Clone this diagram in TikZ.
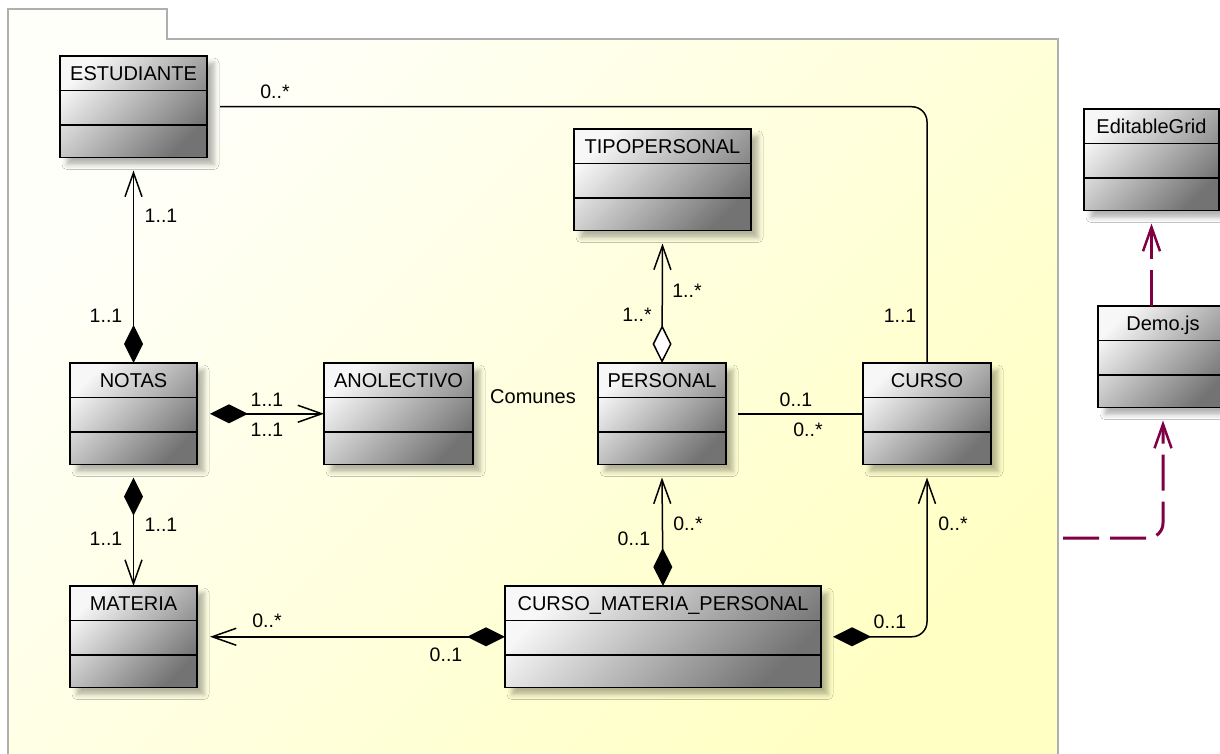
\documentclass[tikz,border=0pt]{standalone}
\usepackage{fontspec}
\setmainfont{Liberation Sans}
\usetikzlibrary{arrows.meta,shadows.blur}
\definecolor{pkgA}{RGB}{255,255,250}
\definecolor{pkgB}{RGB}{255,255,196}
\definecolor{pkgline}{RGB}{175,175,175}
\definecolor{depcol}{RGB}{128,0,70}
\tikzset{
  umlbox/.style={draw=black, line width=1.5pt, rectangle, inner sep=0pt, outer sep=0pt,
    minimum height=101.5pt, top color=black!3, bottom color=black!55, shading angle=45,
    blur shadow={shadow xshift=7pt, shadow yshift=-7pt, shadow blur radius=5pt, shadow opacity=30}},
  sepline/.style={line width=1.5pt},
  cname/.style={font=\fontsize{20}{24}\selectfont, anchor=base, inner sep=0pt},
  mult/.style={font=\fontsize{19.5}{23}\selectfont, inner sep=0pt},
  assoc/.style={line width=1.5pt},
  compnav/.style={{Diamond[length=38pt,width=19pt]}-{Straight Barb[length=24pt,width=17pt]}},
  aggnav/.style={{Diamond[open,length=38pt,width=19pt,fill=white]}-{Straight Barb[length=24pt,width=17pt]}},
  deparrow/.style={draw=depcol, line width=3pt, dash pattern=on 36pt off 11pt,
    -{Straight Barb[length=24pt,width=17pt,line width=2.5pt]}},
}
\newcommand\umlcls[5]{%
  \node[umlbox, minimum width=#4pt, anchor=north west] (#1) at (#2,#3) {};
  \draw[sepline] ([yshift=-34.5pt]#1.north west) -- ([yshift=-34.5pt]#1.north east);
  \draw[sepline] ([yshift=-69pt]#1.north west) -- ([yshift=-69pt]#1.north east);
  \node[cname] (#1-t) at ([yshift=-24.5pt]#1.north) {#5};
}
\begin{document}
\begin{tikzpicture}[x=1pt,y=-1pt]
\useasboundingbox (0,0) rectangle (1220,754);
\fill[white] (0,0) rectangle (1220,754);
% package
\draw[pkgline, line width=1.5pt, top color=pkgA, bottom color=pkgB, shading angle=45]
  (8,770) -- (8,9) -- (167,9) -- (167,39) -- (1058,39) -- (1058,770);

% classes
\umlcls{est}{60}{56}{147}{ESTUDIANTE}
\umlcls{tipo}{574}{129}{177}{TIPOPERSONAL}
\umlcls{notas}{70}{363}{127}{NOTAS}
\umlcls{anol}{324}{363}{149}{ANOLECTIVO}
\umlcls{pers}{598}{363}{128}{PERSONAL}
\umlcls{curso}{863}{363}{128}{CURSO}
\umlcls{mat}{70}{586}{127}{MATERIA}
\umlcls{cmp}{505}{586}{316}{CURSO\_MATERIA\_PERSONAL}
\umlcls{eg}{1084}{109}{135}{EditableGrid}
\umlcls{demo}{1098}{306}{130}{Demo.js}

\node[font=\fontsize{20}{24}\selectfont, inner sep=0pt] (com) at (533,397) {Comunes};

% associations
\draw[assoc, rounded corners=15pt] ([xshift=13pt]est.east) -| (curso.north);
\draw[assoc, compnav] (notas.north) -- ([yshift=-13pt]est.south);
\draw[assoc, compnav] ([xshift=13pt]notas.east) -- (anol.west);
\draw[assoc, compnav] ([yshift=-13pt]notas.south) -- (mat.north);
\draw[assoc, compnav] (cmp.west) -- ([xshift=13pt]mat.east);
\draw[assoc, aggnav] (pers.north) -- ([yshift=-13pt]tipo.south);
\draw[assoc] ([xshift=12pt]pers.east) -- (curso.west);
\draw[assoc, compnav] (cmp.north) -- ([yshift=-13pt]pers.south);
\draw[assoc, compnav, rounded corners=15pt] ([xshift=12pt]cmp.east) -| ([yshift=-13pt]curso.south);

% dependencies
\coordinate (dstart) at (1063,538);
\draw[deparrow, rounded corners=15pt] (dstart) -| ([yshift=-13pt]demo.south);
\draw[deparrow] (demo.north -| eg.south) -- ([yshift=-13pt]eg.south);

% multiplicities
\node[mult] (m1) at (275,92) {0..*};
\node[mult] (m2) at (900,316) {1..1};
\node[mult] (m3) at (161,216) {1..1};
\node[mult] (m4) at (106,316) {1..1};
\node[mult] (m5) at (267,400) {1..1};
\node[mult] (m6) at (267,430) {1..1};
\node[mult] (m7) at (161,525) {1..1};
\node[mult] (m8) at (106,539) {1..1};
\node[mult] (m9) at (267,621) {0..*};
\node[mult] (m10) at (446,655) {0..1};
\node[mult] (m11) at (687,291) {1..*};
\node[mult] (m12) at (637,315) {1..*};
\node[mult] (m13) at (796,400) {0..1};
\node[mult] (m14) at (808,430) {0..*};
\node[mult] (m15) at (688,524) {0..*};
\node[mult] (m16) at (634,539) {0..1};
\node[mult] (m17) at (890,622) {0..1};
\node[mult] (m18) at (953,524) {0..*};
\end{tikzpicture}
\end{document}
